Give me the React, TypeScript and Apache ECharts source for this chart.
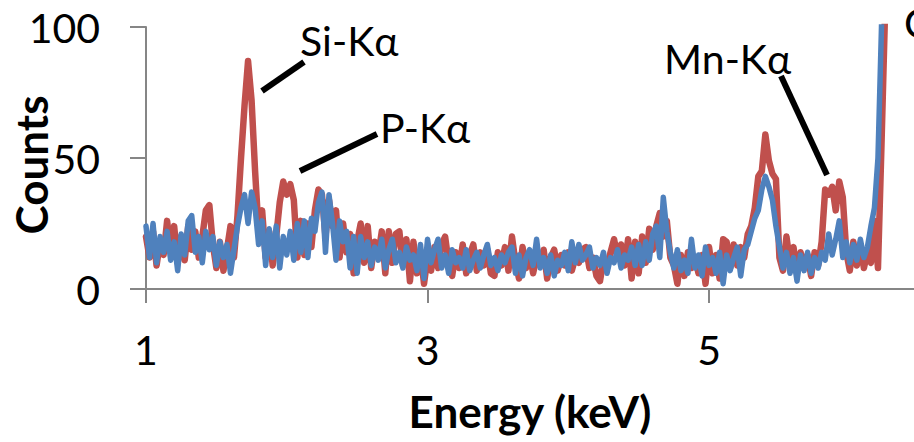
import React, { useEffect, useRef } from "react";
import * as echarts from "echarts";

// Channel energies start at 1.000 keV with a 0.025 keV step
const ENERGY_START = 1.0;
const ENERGY_STEP = 0.025;

// Red spectrum (counts per channel)
const redCounts = [
  20, 12, 22, 9, 18, 13, 26, 14, 24, 10,
  20, 11, 24, 15, 22, 12, 20, 30, 32, 17,
  8, 18, 7, 15, 24, 12, 28, 50, 70, 87,
  72, 45, 22, 30, 12, 22, 9, 20, 33, 41,
  36, 40, 34, 12, 26, 13, 25, 16, 30, 38,
  36, 20, 34, 24, 30, 12, 25, 14, 21, 6,
  18, 25, 10, 24, 8, 18, 13, 22, 6, 22,
  10, 21, 22, 9, 19, 3, 18, 6, 14, 2,
  12, 7, 16, 8, 17, 20, 10, 5, 14, 8,
  17, 6, 13, 17, 7, 14, 9, 15, 6, 5,
  14, 9, 16, 7, 20, 10, 4, 16, 8, 14,
  6, 12, 9, 15, 4, 12, 15, 7, 13, 9,
  14, 7, 12, 10, 15, 16, 8, 12, 5, 3,
  11, 8, 14, 19, 12, 17, 9, 19, 4, 18,
  6, 20, 10, 23, 15, 24, 29, 20, 26, 12,
  9, 2, 13, 5, 14, 8, 12, 6, 13, 2,
  16, 6, 13, 4, 19, 18, 8, 17, 9, 16,
  12, 21, 24, 31, 43, 45, 59, 49, 44, 42,
  12, 7, 20, 10, 16, 6, 14, 8, 13, 5,
  14, 9, 18, 38, 36, 39, 30, 41, 35, 14,
  7, 18, 9, 17, 8, 14, 10, 26, 8, 55,
  105, 170, 260,
];

// Blue spectrum (counts per channel)
const blueCounts = [
  24, 12, 25, 10, 20, 14, 22, 11, 18, 7,
  21, 13, 26, 28, 14, 20, 10, 22, 15, 20,
  9, 18, 12, 17, 6, 15, 24, 31, 36, 25,
  37, 31, 17, 26, 9, 23, 12, 24, 8, 20,
  13, 22, 11, 25, 14, 26, 12, 27, 22, 33,
  37, 14, 36, 25, 11, 26, 18, 22, 8, 20,
  6, 20, 12, 18, 9, 16, 11, 19, 8, 15,
  19, 10, 14, 8, 16, 11, 13, 7, 17, 4,
  19, 10, 15, 19, 8, 13, 6, 15, 10, 12,
  8, 15, 7, 11, 14, 8, 13, 17, 9, 12,
  7, 13, 10, 14, 16, 6, 13, 5, 12, 15,
  9, 19, 8, 12, 6, 13, 5, 11, 9, 14,
  7, 18, 10, 17, 11, 13, 16, 8, 12, 9,
  14, 6, 12, 10, 15, 8, 13, 11, 16, 9,
  17, 9, 18, 11, 21, 24, 12, 35, 22, 14,
  8, 15, 7, 11, 6, 19, 8, 13, 5, 16,
  9, 12, 6, 14, 2, 13, 7, 12, 16, 5,
  15, 17, 22, 27, 30, 38, 43, 39, 34, 24,
  16, 8, 14, 6, 12, 3, 13, 7, 14, 6,
  12, 8, 14, 11, 21, 13, 19, 26, 12, 18,
  10, 17, 11, 19, 12, 16, 24, 31, 50, 100,
  170, 250, 330,
];

const xTickValues = [1, 3, 5];
const X_MIN = 1;
const X_MAX = 6.456;
const Y_MIN = 0;
const Y_MAX = 100;
const Y_INTERVAL = 50;

const xAxisTitle = "Energy (keV)";
const yAxisTitle = "Counts";
const peakLabels = ["Si-Kα", "P-Kα", "Mn-Kα", "Cr-Kα"];

const RED = "#C0504D";
const BLUE = "#4F81BD";
const AXIS_GRAY = "#868686";
const FONT = "Lato, 'Open Sans', sans-serif";

export default function App() {
  const ref = useRef<HTMLDivElement>(null);

  useEffect(() => {
    if (!ref.current) return;
    const chart = echarts.init(ref.current, null, { renderer: "svg" });
    const toPairs = (arr: number[]) =>
      arr.map((c, i) => [Number((ENERGY_START + i * ENERGY_STEP).toFixed(3)), c]);

    const labelText = (text: string, x: number, y: number) => ({
      type: "text",
      x,
      y,
      silent: true,
      style: {
        text,
        fill: "#000",
        fontSize: 41,
        fontFamily: FONT,
        align: "left",
        verticalAlign: "middle",
        textAlign: "left",
        textVerticalAlign: "middle",
      },
    });
    const pointer = (x1: number, y1: number, x2: number, y2: number) => ({
      type: "line",
      silent: true,
      shape: { x1, y1, x2, y2 },
      style: { stroke: "#000", lineWidth: 6 },
    });

    chart.setOption({
      animation: false,
      backgroundColor: "#fff",
      grid: {
        left: 146,
        top: 27,
        width: 768,
        height: 262,
        containLabel: false,
        outerBoundsMode: "none",
      },
      xAxis: {
        type: "value",
        min: X_MIN,
        max: X_MAX,
        name: xAxisTitle,
        nameLocation: "middle",
        nameGap: 100,
        nameMoveOverlap: false,
        nameTextStyle: { fontSize: 44, fontWeight: "bold", fontFamily: FONT, color: "#000" },
        axisLine: { show: true, onZero: false, lineStyle: { color: AXIS_GRAY, width: 2 } },
        axisTick: {
          show: true,
          length: 14,
          customValues: xTickValues,
          lineStyle: { color: AXIS_GRAY, width: 2 },
        },
        axisLabel: {
          customValues: xTickValues,
          fontSize: 41,
          fontFamily: FONT,
          color: "#000",
          margin: 40,
        },
        splitLine: { show: false },
      },
      yAxis: {
        type: "value",
        min: Y_MIN,
        max: Y_MAX,
        interval: Y_INTERVAL,
        axisLine: { show: true, lineStyle: { color: AXIS_GRAY, width: 2 } },
        axisTick: { show: true, length: 16, lineStyle: { color: AXIS_GRAY, width: 2 } },
        axisLabel: { fontSize: 41, fontFamily: FONT, color: "#000", margin: 46 },
        splitLine: { show: false },
      },
      series: [
        {
          type: "line",
          name: "red",
          data: toPairs(redCounts),
          showSymbol: false,
          clip: true,
          lineStyle: { color: RED, width: 6.5, join: "round", cap: "round" },
          z: 2,
        },
        {
          type: "line",
          name: "blue",
          data: toPairs(blueCounts),
          showSymbol: false,
          clip: true,
          lineStyle: { color: BLUE, width: 5.5, join: "round", cap: "round" },
          z: 3,
        },
      ],
      graphic: [
        {
          type: "text",
          x: 31,
          y: 165,
          rotation: Math.PI / 2,
          silent: true,
          style: {
            text: yAxisTitle,
            fill: "#000",
            fontSize: 44,
            fontWeight: "bold",
            fontFamily: FONT,
            align: "center",
            verticalAlign: "middle",
            textAlign: "center",
            textVerticalAlign: "middle",
          },
        },
        pointer(262, 91, 304, 62),
        labelText(peakLabels[0], 300, 40),
        pointer(300, 171, 377, 134),
        labelText(peakLabels[1], 380, 127),
        pointer(781, 76, 827, 175),
        labelText(peakLabels[2], 664, 58),
        labelText(peakLabels[3], 904, 22),
      ],
    });

    return () => chart.dispose();
  }, []);

  return (
    <div
      ref={ref}
      style={{ position: "fixed", left: 0, top: 0, width: 914, height: 442 }}
    />
  );
}
